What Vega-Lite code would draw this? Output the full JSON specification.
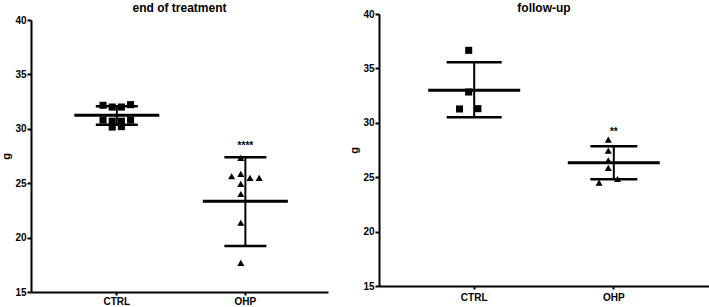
{
  "$schema": "https://vega.github.io/schema/vega-lite/v6.json",
  "background": "white",
  "padding": {"left": 0, "top": 2, "right": 0, "bottom": 0},
  "spacing": 20,
  "center": true,
  "config": {
    "view": {"stroke": null},
    "font": "Liberation Sans",
    "title": {"font": "Liberation Sans", "fontSize": 12, "fontWeight": "bold", "color": "black", "anchor": "middle"},
    "axis": {
      "domainColor": "black", "domainWidth": 2, "tickColor": "black", "tickWidth": 2, "tickSize": 4,
      "labelFont": "Liberation Sans", "labelFontWeight": "bold", "labelFontSize": 10, "labelColor": "black",
      "titleFont": "Liberation Sans", "titleFontWeight": "bold", "titleFontSize": 11, "titleColor": "black",
      "grid": false
    }
  },
  "datasets": {
    "pts": [
      {"panel": "end", "group": "CTRL", "col": -1.5, "value": 32.16},
      {"panel": "end", "group": "CTRL", "col": -1.5, "value": 30.8},
      {"panel": "end", "group": "CTRL", "col": -0.5, "value": 32.0},
      {"panel": "end", "group": "CTRL", "col": -0.5, "value": 30.7},
      {"panel": "end", "group": "CTRL", "col": -0.5, "value": 30.16},
      {"panel": "end", "group": "CTRL", "col": 0.5, "value": 32.0},
      {"panel": "end", "group": "CTRL", "col": 0.5, "value": 30.7},
      {"panel": "end", "group": "CTRL", "col": 0.5, "value": 30.2},
      {"panel": "end", "group": "CTRL", "col": 1.5, "value": 32.22},
      {"panel": "end", "group": "CTRL", "col": 1.5, "value": 30.8},
      {"panel": "end", "group": "OHP", "col": -1.5, "value": 25.64},
      {"panel": "end", "group": "OHP", "col": -0.5, "value": 27.33},
      {"panel": "end", "group": "OHP", "col": -0.5, "value": 25.86},
      {"panel": "end", "group": "OHP", "col": -0.5, "value": 24.94},
      {"panel": "end", "group": "OHP", "col": -0.5, "value": 24.01},
      {"panel": "end", "group": "OHP", "col": -0.5, "value": 21.37},
      {"panel": "end", "group": "OHP", "col": -0.5, "value": 17.68},
      {"panel": "end", "group": "OHP", "col": 0.5, "value": 25.49},
      {"panel": "end", "group": "OHP", "col": 1.5, "value": 25.49},
      {"panel": "follow", "group": "CTRL", "col": 0, "value": 36.66},
      {"panel": "follow", "group": "CTRL", "col": 0, "value": 32.83},
      {"panel": "follow", "group": "CTRL", "col": -1, "value": 31.27},
      {"panel": "follow", "group": "CTRL", "col": 1, "value": 31.3},
      {"panel": "follow", "group": "OHP", "col": 0, "value": 28.45},
      {"panel": "follow", "group": "OHP", "col": 0, "value": 27.44},
      {"panel": "follow", "group": "OHP", "col": 0, "value": 26.56},
      {"panel": "follow", "group": "OHP", "col": 0, "value": 25.86},
      {"panel": "follow", "group": "OHP", "col": -1, "value": 24.5},
      {"panel": "follow", "group": "OHP", "col": 1, "value": 24.84}
    ],
    "sum": [
      {"panel": "end", "group": "CTRL", "mean": 31.24, "lo": 30.38, "hi": 32.07, "star": null, "starY": null},
      {"panel": "end", "group": "OHP", "mean": 23.33, "lo": 19.22, "hi": 27.39, "star": "****", "starY": 28.15},
      {"panel": "follow", "group": "CTRL", "mean": 33.0, "lo": 30.5, "hi": 35.56, "star": null, "starY": null},
      {"panel": "follow", "group": "OHP", "mean": 26.32, "lo": 24.81, "hi": 27.84, "star": "**", "starY": 28.85}
    ]
  },
  "hconcat": [
    {
      "width": 297, "height": 272,
      "title": {"text": "end of treatment", "offset": 0},
      "layer": [
        {
          "data": {"name": "pts"},
          "transform": [{"filter": "datum.panel === 'end'"}],
          "mark": {"type": "point", "filled": true, "size": 50, "color": "black", "opacity": 1},
          "encoding": {
            "x": {"field": "group", "type": "nominal", "sort": ["CTRL", "OHP"],
                  "scale": {"type": "band", "paddingInner": 0, "paddingOuter": 0.155, "align": 0.54},
                  "axis": {"title": null, "labelAngle": 0, "labelPadding": 1, "tickSize": 3}},
            "xOffset": {"field": "col", "type": "quantitative", "scale": {"domain": [-6.143, 6.143]}},
            "y": {"field": "value", "type": "quantitative",
                  "scale": {"domain": [15, 40], "nice": false, "zero": false},
                  "axis": {"title": "g", "values": [15, 20, 25, 30, 35, 40], "titlePadding": 3, "labelPadding": 1}},
            "shape": {"field": "group", "type": "nominal", "scale": {"domain": ["CTRL", "OHP"], "range": ["square", "triangle-up"]}, "legend": null}
          }
        },
        {
          "data": {"name": "sum"},
          "transform": [{"filter": "datum.panel === 'end'"}],
          "mark": {"type": "rule", "color": "black", "strokeWidth": 2},
          "encoding": {
            "x": {"field": "group", "type": "nominal"},
            "y": {"field": "lo", "type": "quantitative"},
            "y2": {"field": "hi"}
          }
        },
        {
          "data": {"name": "sum"},
          "transform": [{"filter": "datum.panel === 'end'"}],
          "mark": {"type": "tick", "color": "black", "thickness": 2.5, "size": 42, "opacity": 1},
          "encoding": {
            "x": {"field": "group", "type": "nominal"},
            "y": {"field": "lo", "type": "quantitative"}
          }
        },
        {
          "data": {"name": "sum"},
          "transform": [{"filter": "datum.panel === 'end'"}],
          "mark": {"type": "tick", "color": "black", "thickness": 2.5, "size": 42, "opacity": 1},
          "encoding": {
            "x": {"field": "group", "type": "nominal"},
            "y": {"field": "hi", "type": "quantitative"}
          }
        },
        {
          "data": {"name": "sum"},
          "transform": [{"filter": "datum.panel === 'end'"}],
          "mark": {"type": "tick", "color": "black", "thickness": 3, "size": 85, "opacity": 1},
          "encoding": {
            "x": {"field": "group", "type": "nominal"},
            "y": {"field": "mean", "type": "quantitative"}
          }
        },
        {
          "data": {"name": "sum"},
          "transform": [{"filter": "datum.panel === 'end' && datum.star != null"}],
          "mark": {"type": "text", "color": "black", "fontSize": 10, "fontWeight": "bold", "baseline": "alphabetic", "font": "Liberation Sans"},
          "encoding": {
            "x": {"field": "group", "type": "nominal"},
            "y": {"field": "starY", "type": "quantitative"},
            "text": {"field": "star"}
          }
        }
      ]
    },
    {
      "width": 330, "height": 272,
      "title": {"text": "follow-up", "offset": -6},
      "layer": [
        {
          "data": {"name": "pts"},
          "transform": [{"filter": "datum.panel === 'follow'"}],
          "mark": {"type": "point", "filled": true, "size": 50, "color": "black", "opacity": 1},
          "encoding": {
            "x": {"field": "group", "type": "nominal", "sort": ["CTRL", "OHP"],
                  "scale": {"type": "band", "paddingInner": 0, "paddingOuter": 0.182, "align": 0.5},
                  "axis": {"title": null, "labelAngle": 0, "labelPadding": 3, "tickSize": 3, "minExtent": 26}},
            "xOffset": {"field": "col", "type": "quantitative", "scale": {"domain": [-7, 7]}},
            "y": {"field": "value", "type": "quantitative",
                  "scale": {"domain": [15, 40], "nice": false, "zero": false},
                  "axis": {"title": "g", "values": [15, 20, 25, 30, 35, 40], "titlePadding": 3, "labelPadding": 1}},
            "shape": {"field": "group", "type": "nominal", "scale": {"domain": ["CTRL", "OHP"], "range": ["square", "triangle-up"]}, "legend": null}
          }
        },
        {
          "data": {"name": "sum"},
          "transform": [{"filter": "datum.panel === 'follow'"}],
          "mark": {"type": "rule", "color": "black", "strokeWidth": 2},
          "encoding": {
            "x": {"field": "group", "type": "nominal"},
            "y": {"field": "lo", "type": "quantitative"},
            "y2": {"field": "hi"}
          }
        },
        {
          "data": {"name": "sum"},
          "transform": [{"filter": "datum.panel === 'follow'"}],
          "mark": {"type": "tick", "color": "black", "thickness": 2.5, "opacity": 1},
          "encoding": {
            "x": {"field": "group", "type": "nominal"},
            "y": {"field": "lo", "type": "quantitative"},
            "size": {"field": "group", "type": "nominal", "scale": {"domain": ["CTRL", "OHP"], "range": [55, 47]}, "legend": null}
          }
        },
        {
          "data": {"name": "sum"},
          "transform": [{"filter": "datum.panel === 'follow'"}],
          "mark": {"type": "tick", "color": "black", "thickness": 2.5, "opacity": 1},
          "encoding": {
            "x": {"field": "group", "type": "nominal"},
            "y": {"field": "hi", "type": "quantitative"},
            "size": {"field": "group", "type": "nominal", "legend": null}
          }
        },
        {
          "data": {"name": "sum"},
          "transform": [{"filter": "datum.panel === 'follow'"}],
          "mark": {"type": "tick", "color": "black", "thickness": 3, "size": 92, "opacity": 1},
          "encoding": {
            "x": {"field": "group", "type": "nominal"},
            "y": {"field": "mean", "type": "quantitative"}
          }
        },
        {
          "data": {"name": "sum"},
          "transform": [{"filter": "datum.panel === 'follow' && datum.star != null"}],
          "mark": {"type": "text", "color": "black", "fontSize": 10, "fontWeight": "bold", "baseline": "alphabetic", "font": "Liberation Sans"},
          "encoding": {
            "x": {"field": "group", "type": "nominal"},
            "y": {"field": "starY", "type": "quantitative"},
            "text": {"field": "star"}
          }
        }
      ]
    }
  ]
}
